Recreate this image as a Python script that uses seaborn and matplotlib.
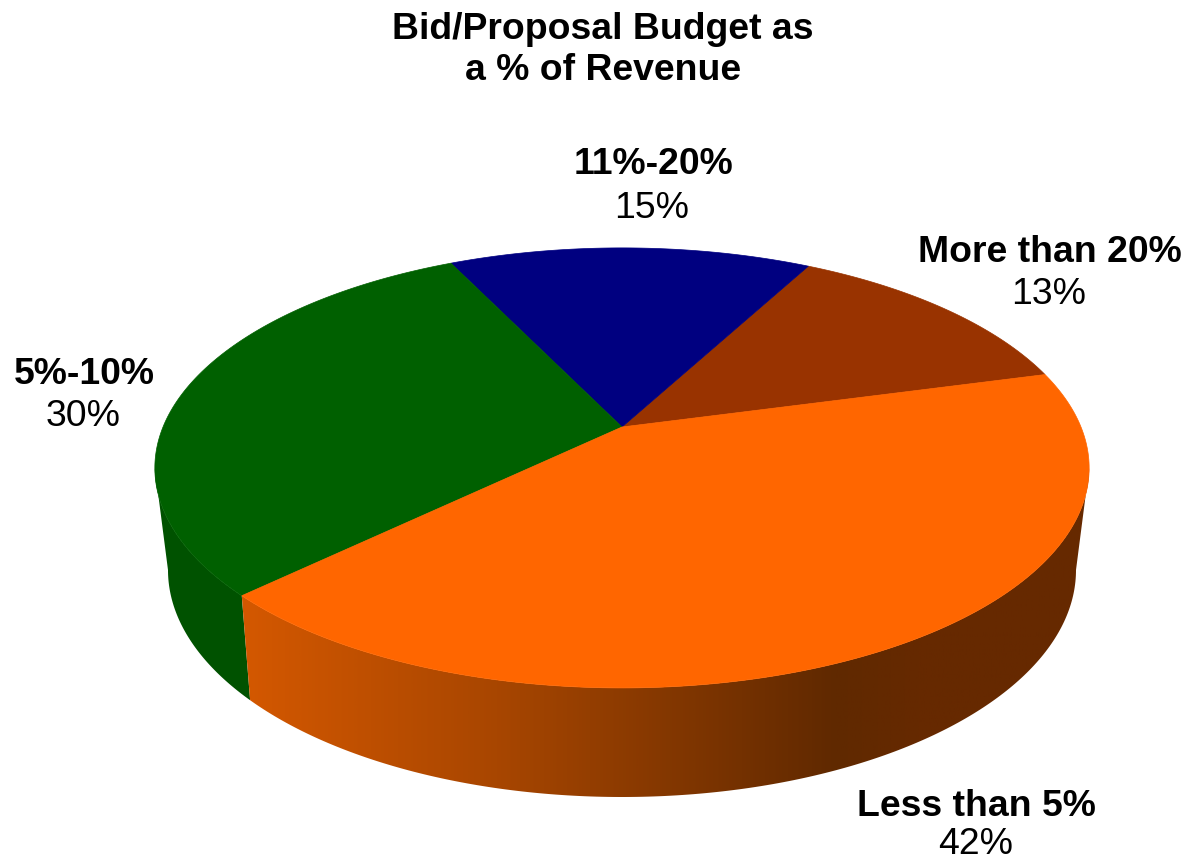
import numpy as np
import matplotlib
matplotlib.use("Agg")
import matplotlib.pyplot as plt
from matplotlib.colors import LinearSegmentedColormap
import seaborn as sns

categories = ["More than 20%", "11%-20%", "5%-10%", "Less than 5%"]
values = [13, 15, 30, 42]
colors = ["#993300", "#000080", "#006000", "#FF6600"]
title_lines = ["Bid/Proposal Budget as", "a % of Revenue"]

sns.set_theme(style="white")
plt.rcParams["font.family"] = ["Liberation Sans", "DejaVu Sans"]

W, H = 1186, 864
fig = plt.figure(figsize=(W / 100, H / 100), dpi=100)
ax = fig.add_axes([0, 0, 1, 1])
ax.set_xlim(0, W)
ax.set_ylim(H, 0)
ax.axis("off")

CX, CY, S, A, C = 622, 427, 459, 212.4, 0.186


def top(theta):
    x, y = np.cos(theta), np.sin(theta)
    d = C * y + 1
    return CX + S * x / d, CY - A * y / d


def bottom(theta):
    return 622 + 454 * np.cos(theta), 570 - 227 * np.sin(theta)


start = np.deg2rad(15)
edges = start + np.deg2rad(np.cumsum([0] + values) * 3.6)
split_bottom = np.deg2rad(215)

# side wall: green part
tx, ty = top(np.linspace(np.deg2rad(190.8), edges[3], 100))
bx, by = bottom(np.linspace(np.pi, split_bottom, 100))
ax.fill(np.r_[tx, bx[::-1]], np.r_[ty, by[::-1]], color="#005200", lw=0, zorder=1)

# side wall: orange part with horizontal gradient
tx, ty = top(np.linspace(edges[3], np.deg2rad(349.2), 200))
bx, by = bottom(np.linspace(split_bottom, 2 * np.pi, 200))
poly = ax.fill(np.r_[tx, bx[::-1]], np.r_[ty, by[::-1]], color="none", lw=0, zorder=1)[0]
cmap = LinearSegmentedColormap.from_list(
    "wall",
    [(0, "#D45800"), (0.3, "#A84600"), (0.7, "#602900"), (0.8, "#662900"), (1, "#662900")],
)
grad = np.linspace(0, 1, 512)[None, :]
im = ax.imshow(grad, cmap=cmap, extent=(242, 1090, 810, 460), aspect="auto", zorder=1)
im.set_clip_path(poly)
ax.set_xlim(0, W)
ax.set_ylim(H, 0)

# top face
for i, col in enumerate(colors):
    t = np.linspace(edges[i], edges[i + 1], 200)
    x, y = top(t)
    ax.fill(np.r_[CX, x], np.r_[CY, y], color=col, lw=0.5, ec=col, zorder=2)

FS = 26.9
ax.text(603, 50, "\n".join(title_lines), ha="center", va="center", fontsize=FS,
        fontweight="bold", color="black", linespacing=1.22)

positions = [(1049.5, 250, 295), (653, 162, 208), (84, 371, 416), (976.5, 803, 845)]
for cat, val, (x, y1, y2) in zip(categories, values, positions):
    ax.text(x, y1 + 3, cat, ha="center", va="center", fontsize=FS, fontweight="bold", color="black")
    ax.text(x - 1, y2, f"{val}%", ha="center", va="center", fontsize=FS, color="black")

fig.savefig("out.png", dpi=100)
